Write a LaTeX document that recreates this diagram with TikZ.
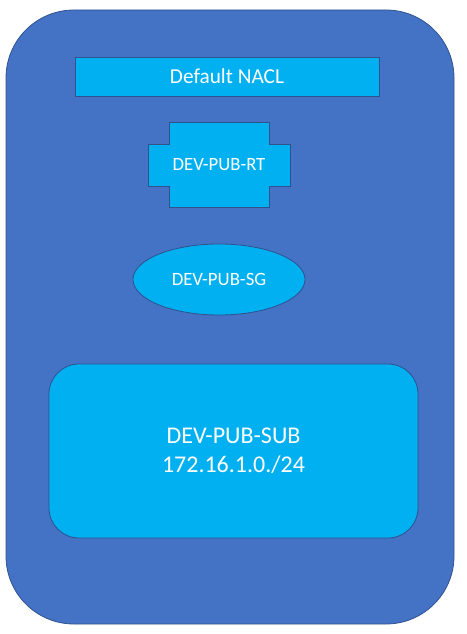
\documentclass[tikz,border=0pt]{standalone}
\usepackage{fontspec}
\setmainfont{Carlito}
\usetikzlibrary{shapes.geometric}
\definecolor{outerblue}{HTML}{4472C4}
\definecolor{innerblue}{HTML}{00B0F0}
\definecolor{edgeblue}{HTML}{2F528F}
\tikzset{
  shapebox/.style={fill=innerblue, draw=edgeblue, line width=0.8pt},
  lbl/.style={text=white, inner sep=0pt, outer sep=0pt, align=center}
}
\begin{document}
\begin{tikzpicture}[x=1pt,y=-1pt]
\useasboundingbox (0,0) rectangle (466,634);
% outer VPC container
\draw[fill=outerblue, draw=edgeblue, line width=0.8pt, rounded corners=68pt] (6,10) rectangle (454,624);
% Default NACL
\node[shapebox, lbl, minimum width=304pt, minimum height=39pt, font=\fontsize{21.3}{25}\selectfont] (nacl) at (227,76.5) {Default NACL};
% route table cross shape
\draw[shapebox] (169,122) -- (269,122) -- (269,144) -- (290,144) -- (290,186) -- (269,186) -- (269,207) -- (169,207) -- (169,186) -- (148,186) -- (148,144) -- (169,144) -- cycle;
\node[lbl, font=\fontsize{18.7}{22}\selectfont] (rt) at (219,165) {DEV-PUB-RT};
% security group
\node[shapebox, lbl, ellipse, minimum width=172pt, minimum height=71pt, font=\fontsize{18.8}{22}\selectfont] (sg) at (219,279.5) {DEV-PUB-SG};
% subnet
\node[shapebox, lbl, rounded corners=30pt, minimum width=369pt, minimum height=174pt, font=\fontsize{24}{29}\selectfont] (sub) at (233.5,451) {DEV-PUB-SUB\\172.16.1.0./24};
\end{tikzpicture}
\end{document}
